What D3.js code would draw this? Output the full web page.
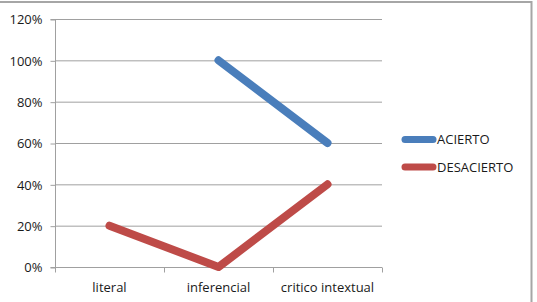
<!DOCTYPE html>
<html><head><meta charset="utf-8">
<script src="https://cdn.jsdelivr.net/npm/d3@7"></script>
<style>
html,body{margin:0;padding:0;background:#fff;}
svg{display:block;}
text{font-family:"Open Sans",sans-serif;fill:#1a1a1a;}
</style></head>
<body>
<svg id="c" width="537" height="302"></svg>
<script>
const categories = ["literal", "inferencial", "critico intextual"];
const seriesNames = ["ACIERTO", "DESACIERTO"];
const acierto = [null, 1.0, 0.6];
const desacierto = [0.2, 0.0, 0.4];
const yTicks = [0, 0.2, 0.4, 0.6, 0.8, 1.0, 1.2];
const colors = ["#4a7ebb", "#be4b48"];

const svg = d3.select("#c");
const m = {left: 55, right: 382, top: 19, bottom: 267};

// outer border (top + right)
svg.append("path").attr("d", "M0,2H531.5V302").attr("fill", "none")
  .attr("stroke", "#a6a6a6").attr("stroke-width", 2);

const x = d3.scaleBand().domain(categories).range([m.left, m.right]);
const y = d3.scaleLinear().domain([0, 1.2]).range([m.bottom, m.top]);

// gridlines
svg.append("g").selectAll("line").data(yTicks.filter(d => d > 0)).join("line")
  .attr("x1", m.left).attr("x2", m.right)
  .attr("y1", d => y(d) + 0.5).attr("y2", d => y(d) + 0.5)
  .attr("stroke", "#a0a0a0").attr("stroke-width", 1);

// y axis
const yAxis = svg.append("g").attr("transform", `translate(${m.left + 0.5},0.5)`)
  .call(d3.axisLeft(y).tickValues(yTicks).tickFormat(d3.format(".0%")).tickSize(5).tickPadding(8));
yAxis.select(".domain").attr("stroke", "#a0a0a0").attr("d", `M-5,${y(1.2)}H0V${y(0)}H-5`);
yAxis.selectAll(".tick line").attr("stroke", "#a0a0a0");
yAxis.selectAll("text").attr("font-size", 13).attr("font-family", "Open Sans").attr("fill", "#1a1a1a");

// x axis
const xAxis = svg.append("g").attr("transform", `translate(0,${m.bottom + 0.5})`);
xAxis.append("line").attr("x1", m.left).attr("x2", m.right).attr("stroke", "#a0a0a0");
const bounds = [m.left].concat(categories.map(c => x(c) + x.bandwidth()));
xAxis.selectAll("line.t").data(bounds).join("line").attr("class", "t")
  .attr("x1", d => Math.round(d) + 0.5).attr("x2", d => Math.round(d) + 0.5)
  .attr("y1", 0).attr("y2", 5).attr("stroke", "#a0a0a0");
xAxis.selectAll("text").data(categories).join("text")
  .attr("x", d => x(d) + x.bandwidth() / 2).attr("y", 24)
  .attr("text-anchor", "middle").attr("font-size", 13).text(d => d);

// lines
const line = d3.line()
  .defined(d => d.v !== null)
  .x(d => x(d.c) + x.bandwidth() / 2)
  .y(d => y(d.v));
[acierto, desacierto].forEach((vals, i) => {
  svg.append("path")
    .datum(categories.map((c, j) => ({c, v: vals[j]})))
    .attr("d", line).attr("fill", "none")
    .attr("stroke", colors[i]).attr("stroke-width", 8)
    .attr("stroke-linecap", "round").attr("stroke-linejoin", "round");
});

// legend
const lg = svg.append("g");
seriesNames.forEach((s, i) => {
  const yy = 139.5 + i * 27.5;
  lg.append("line").attr("x1", 405).attr("x2", 433).attr("y1", yy).attr("y2", yy)
    .attr("stroke", colors[i]).attr("stroke-width", 7).attr("stroke-linecap", "round");
  lg.append("text").attr("x", 437).attr("y", yy + 4.5).attr("font-size", 13).text(s);
});
</script>
</body></html>
